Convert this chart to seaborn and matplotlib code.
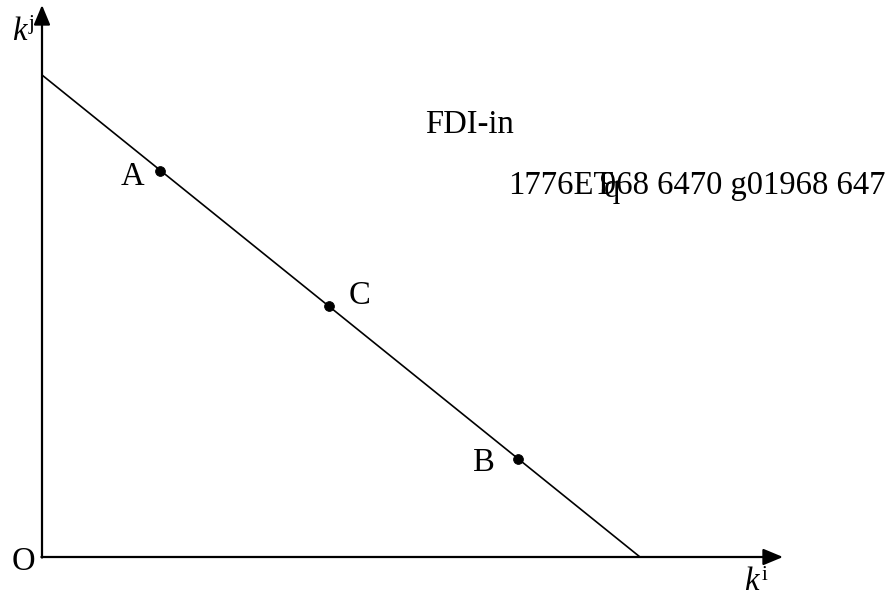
import matplotlib
matplotlib.use('Agg')
import matplotlib.pyplot as plt
import seaborn as sns
import pandas as pd

# Budget line endpoints (k^i, k^j) and labelled points on it
line_ki = [0, 598]
line_kj = [482, 0]
point_names = ['A', 'C', 'B']
point_ki = [118, 287, 476]
point_kj = [386, 251, 98]

sns.set_style('white')
plt.rcParams['font.family'] = ['Liberation Serif', 'DejaVu Serif']

fig = plt.figure(figsize=(8.93, 5.96), dpi=100)
ax = fig.add_axes([0, 0, 1, 1])
ax.set_xlim(-42, 851)
ax.set_ylim(-39, 557)
ax.axis('off')

# Axes with arrow heads
arrow = dict(arrowstyle='-|>,head_length=1.2,head_width=0.5', color='black', lw=1.6, shrinkA=0, shrinkB=0)
ax.annotate('', xy=(741, 0), xytext=(-0.6, 0), arrowprops=arrow)
ax.annotate('', xy=(0, 552), xytext=(0, -0.6), arrowprops=arrow)

# Line and points
df_line = pd.DataFrame({'ki': line_ki, 'kj': line_kj})
sns.lineplot(data=df_line, x='ki', y='kj', color='black', lw=1.2, ax=ax, sort=False)
df_pts = pd.DataFrame({'ki': point_ki, 'kj': point_kj, 'name': point_names})
sns.scatterplot(data=df_pts, x='ki', y='kj', color='black', s=50, edgecolor='black', ax=ax, zorder=3)
ax.set_xlabel('')
ax.set_ylabel('')

fs = 23.5
txt = dict(color='black', fontsize=fs)
label_offsets = {'A': (-28, -6), 'C': (30, 10), 'B': (-34, -4)}
for n, x, y in zip(point_names, point_ki, point_kj):
    dx, dy = label_offsets[n]
    ax.text(x + dx, y + dy, n, ha='center', va='center', **txt)

ax.text(-18.5, -4.5, 'O', ha='center', va='center', **txt)
ax.text(-23, 525, 'k', fontstyle='italic', ha='center', va='center', **txt)
ax.text(-11, 532, 'j', ha='center', va='center', color='black', fontsize=15)
ax.text(709, -25, 'k', fontstyle='italic', ha='center', va='center', **txt)
ax.text(722, -18, 'i', ha='center', va='center', color='black', fontsize=15)

ax.text(383, 424, 'FDI-in', ha='left', va='baseline', **txt)
ax.text(466, 363, '1776ET', ha='left', va='baseline', **txt)
ax.text(562, 360, 'q', ha='left', va='baseline', **txt)
ax.text(843, 363, '968 6470 g01968 647', ha='right', va='baseline', **txt)

plt.savefig('out.png', dpi=100)
